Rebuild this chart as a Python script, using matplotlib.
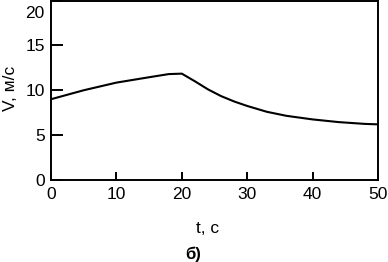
import matplotlib
matplotlib.use("Agg")
import matplotlib.pyplot as plt

plt.rcParams["font.family"] = ["Liberation Sans", "DejaVu Sans"]

# ── Data ──────────────────────────────────────────────────────────────────────
t_s = [0, 5, 10, 15, 18, 20, 22, 24, 26, 28, 30, 33, 36, 40, 44, 48, 50]
v_ms = [9.0, 10.0, 10.85, 11.45, 11.8, 11.85, 11.0, 10.1, 9.35, 8.75, 8.25,
        7.6, 7.15, 6.75, 6.45, 6.25, 6.2]
x_ticks = [0, 10, 20, 30, 40, 50]
y_ticks = [0, 5, 10, 15, 20]

fig = plt.figure(figsize=(3.88, 2.62), dpi=100)
ax = fig.add_axes([51 / 388, 82 / 262, 327 / 388, 179.5 / 262])

ax.plot(t_s, v_ms, color="black", lw=1.5)

ax.set_xlim(0, 50)
ax.set_ylim(0, 20)
ax.set_xticks(x_ticks)
ax.set_yticks(y_ticks)
ax.set_yticklabels([str(v) for v in y_ticks[:-1]] + [""])
for s in ax.spines.values():
    s.set_linewidth(1.4)
ax.tick_params(axis="x", direction="in", length=6, width=1.4, pad=5, labelsize=12.5)
ax.tick_params(axis="y", direction="in", length=8.5, width=1.4, pad=4.5, labelsize=12.5)

# "20" sits lower than its tick in the reference (cropped top)
ax.annotate("20", xy=(0, 20), xycoords=("axes fraction", "data"),
            xytext=(-4.5, -9.5), textcoords="offset points",
            ha="right", va="center", fontsize=12.5)

ax.set_ylabel("V, м/с", fontsize=12.5)
ax.yaxis.set_label_coords(-0.10, 0.51)
ax.set_xlabel("t, с", fontsize=12.5)
ax.xaxis.set_label_coords(0.48, -0.23)

fig.text(193 / 388, 1 - 254 / 262, "б)", fontsize=12, fontweight="bold",
         ha="center", va="center")

fig.savefig("out.png", dpi=100)
